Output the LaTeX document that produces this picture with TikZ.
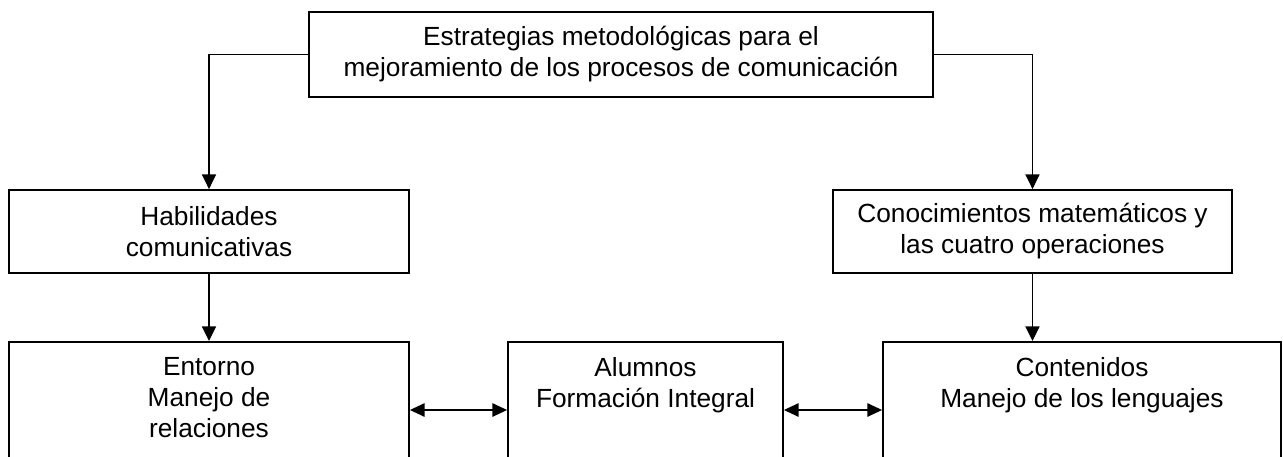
\documentclass[tikz,border=0pt]{standalone}
\usepackage{fontspec}
\setmainfont{Liberation Sans}
\usetikzlibrary{arrows.meta}
\begin{document}
\begin{tikzpicture}[x=0.75pt,y=-0.75pt,
  every node/.style={font=\fontsize{19.7pt}{23.25pt}\selectfont},
  box/.style={draw, line width=1.35pt, align=center, inner sep=0pt},
  bottombox/.style={box, anchor=north, inner ysep=12pt, text depth=160pt},
  conn/.style={line width=1.2pt, -{Triangle[length=11pt,width=10.5pt]}},
  dconn/.style={line width=1.2pt, {Triangle[length=11pt,width=10pt]}-{Triangle[length=11pt,width=10pt]}}]
\useasboundingbox (0,0) rectangle (1283,457);
\clip (0,0) rectangle (1283,457);
\fill[white] (0,0) rectangle (1283,457);

\node[box, minimum width=624*0.75pt, minimum height=85*0.75pt] (top) at (621,54.5)
  {Estrategias metodológicas para el\\mejoramiento de los procesos de comunicación};
\node[box, minimum width=400*0.75pt, minimum height=83*0.75pt] (hab) at (209,231.5)
  {Habilidades\\comunicativas};
\node[box, minimum width=399*0.75pt, minimum height=83*0.75pt] (con) at (1032.5,231.5)
  {Conocimientos matemáticos y\\las cuatro operaciones};

\node[bottombox, minimum width=400*0.75pt] (ent) at (209,341)
  {Entorno\\Manejo de\\relaciones};
\node[bottombox, minimum width=275*0.75pt] (alu) at (645.5,341)
  {Alumnos\\Formación Integral};
\node[bottombox, minimum width=398*0.75pt] (cont) at (1082,341)
  {Contenidos\\Manejo de los lenguajes};

\draw[conn] (top.west) -| (hab.north);
\draw[conn] (top.east) -| (con.north);
\draw[conn] (hab.south) -- (ent.north);
\draw[conn] (con.south) -- (con.south |- cont.north);
\draw[dconn] ([yshift=-51.75pt]ent.north east) -- ([yshift=-51.75pt]alu.north west);
\draw[dconn] ([yshift=-51.75pt]alu.north east) -- ([yshift=-51.75pt]cont.north west);
\end{tikzpicture}
\end{document}
